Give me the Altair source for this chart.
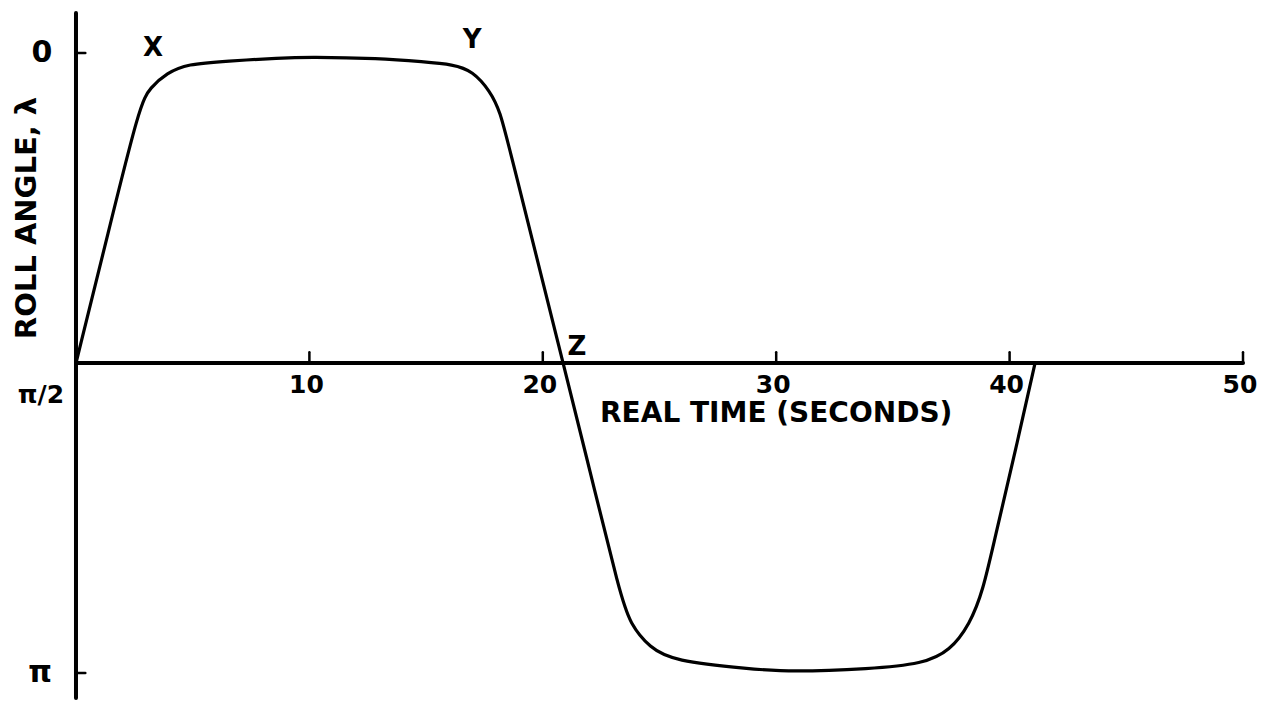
import altair as alt
import pandas as pd
import math

# ---- data ----
time_s = [0, 1.37, 2.74, 3.17, 3.90, 4.76, 6.47, 8.74, 10.0, 13.0, 14.9,
          16.15, 17.0, 17.74, 18.17, 18.6, 20.87, 22.02, 23.31, 23.74, 24.59,
          25.58, 28.88, 30.59, 34.02, 36.29, 37.45, 38.30, 38.86, 39.37, 40.15, 41.09]
roll_rad = [1.571, 0.915, 0.258, 0.177, 0.101, 0.056, 0.041, 0.025, 0.02,
            0.027, 0.045, 0.058, 0.091, 0.193, 0.294, 0.496, 1.571, 2.117, 2.741,
            2.893, 3.014, 3.080, 3.121, 3.136, 3.121, 3.095, 3.029, 2.893, 2.725,
            2.457, 2.067, 1.571]

x_ticks = [10, 20, 30, 40, 50]
x_tick_labels = ["10", "20", "30", "40", "50"]
y_ticks = [0, math.pi / 2, math.pi]
y_tick_labels = ["0", "π/2", "π"]

point_letters = ["X", "Y", "Z"]
letter_t = [3.3, 16.97, 21.46]
letter_l = [-0.025, -0.066, 1.49]

x_title = "REAL TIME (SECONDS)"
y_title = "ROLL ANGLE, λ"

FONT = "DejaVu Sans"
W, H = 1254, 690

xs = alt.Scale(domain=[-2.913, 50.814], nice=False, zero=False)
ys = alt.Scale(domain=[-0.228, 3.268], nice=False, zero=False, reverse=True)

curve = pd.DataFrame({"t": time_s, "lam": roll_rad})

# axis lines
axes_df = pd.DataFrame({
    "x": [0, 0], "x2": [0, 50],
    "y": [-0.203, math.pi / 2], "y2": [3.268, math.pi / 2],
})
# ticks
tick_rows = []
for v in x_ticks:
    tick_rows.append({"x": v, "x2": v, "y": math.pi / 2, "y2": math.pi / 2 - 0.055})
for v in [0, math.pi]:
    tick_rows.append({"x": 0, "x2": 0.4, "y": v, "y2": v})
ticks_df = pd.DataFrame(tick_rows)


def enc(chart, xf="x:Q", yf="y:Q", **kw):
    return chart.encode(x=alt.X(xf, scale=xs, axis=None), y=alt.Y(yf, scale=ys, axis=None), **kw)


def seg_layer(df, width):
    return enc(alt.Chart(df).mark_rule(color="black", strokeWidth=width, strokeCap="round"),
               x2="x2:Q", y2="y2:Q")


axes_layer = seg_layer(axes_df, 4)
ticks_layer = seg_layer(ticks_df, 2.5)

line = enc(alt.Chart(curve).mark_line(color="black", strokeWidth=3.2, interpolate="basis"),
           "t:Q", "lam:Q")

TXT = dict(font=FONT, fontWeight="bold", color="black", baseline="middle")

xlab_df = pd.DataFrame({"x": x_ticks, "y": [math.pi / 2] * len(x_ticks), "text": x_tick_labels})
xlabs = enc(alt.Chart(xlab_df).mark_text(fontSize=25, dy=22, dx=-3, **TXT), text="text:N")

ylab_x = [-1.46, -1.5, -1.54]
ylab_df = pd.DataFrame({"x": ylab_x, "y": y_ticks, "text": y_tick_labels})
ylab_main = enc(alt.Chart(ylab_df).transform_filter(alt.datum.text != "π/2")
                .mark_text(fontSize=30, **TXT), text="text:N")
ylab_half = enc(alt.Chart(ylab_df).transform_filter(alt.datum.text == "π/2")
                .mark_text(fontSize=25, dy=32, **TXT), text="text:N")

let_df = pd.DataFrame({"x": letter_t, "y": letter_l, "text": point_letters})
letters = enc(alt.Chart(let_df).mark_text(fontSize=26, **TXT), text="text:N")

xt_df = pd.DataFrame({"x": [30.0], "y": [1.83], "text": [x_title]})
xtitle = enc(alt.Chart(xt_df).mark_text(fontSize=28, **TXT), text="text:N")

yt_df = pd.DataFrame({"x": [-2.1], "y": [0.836], "text": [y_title]})
ytitle = enc(alt.Chart(yt_df).mark_text(fontSize=29, angle=270, **TXT), text="text:N")

chart = alt.layer(axes_layer, ticks_layer, line, xlabs, ylab_main, ylab_half, letters,
                  xtitle, ytitle).properties(
    width=W, height=H, padding=0, background="white"
).configure_view(stroke=None)

chart.save("out.html", embed_options={"renderer": "svg", "actions": False})
